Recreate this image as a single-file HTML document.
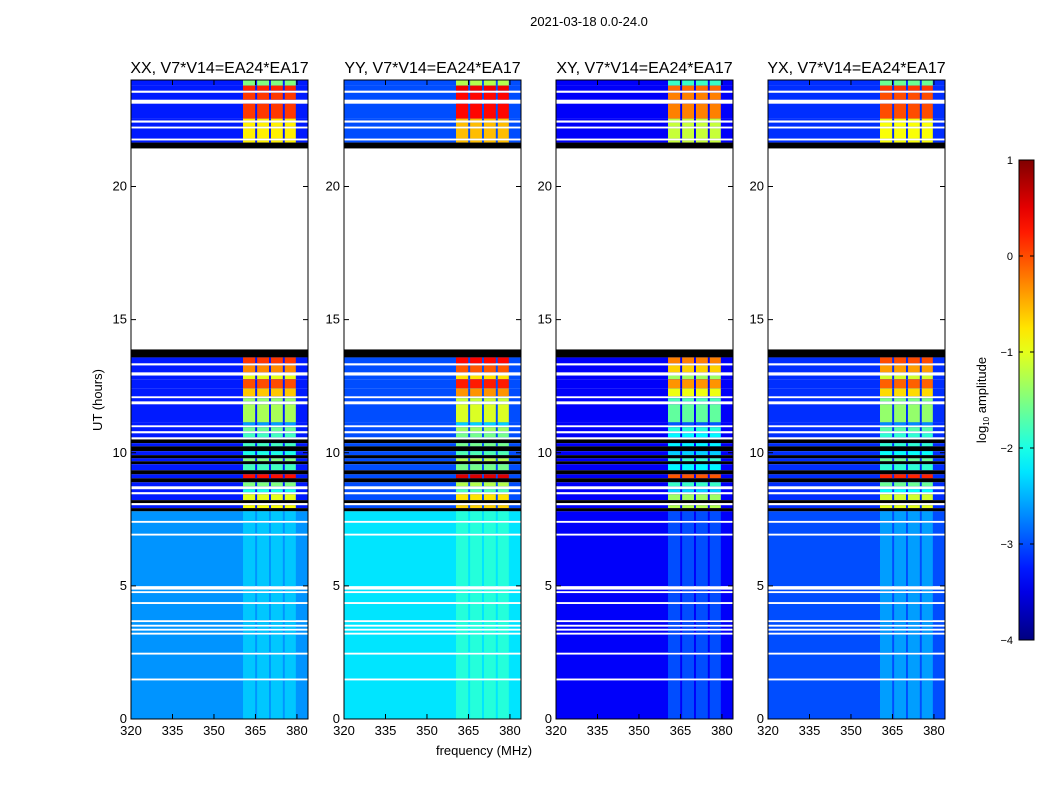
<!DOCTYPE html>
<html><head><meta charset="utf-8"><style>
html,body{margin:0;padding:0;background:#fff}
svg{display:block;font-family:"Liberation Sans",sans-serif}
</style></head><body>
<svg id="fig" width="1050" height="800" viewBox="0 0 1050 800">
<text x="589" y="26" font-size="13" text-anchor="middle">2021-03-18 0.0-24.0</text>
<text transform="translate(102,400) rotate(-90)" font-size="13" text-anchor="middle">UT (hours)</text>
<text x="484" y="755" font-size="13" text-anchor="middle">frequency (MHz)</text>
<g id="panels"></g>
<g id="cbar"></g>
<text transform="translate(986,400) rotate(-90)" font-size="13" text-anchor="middle">log<tspan font-size="8" dy="3">10</tspan><tspan dy="-3"> amplitude</tspan></text>
</svg>
<script>
// ---- data ----
const panelTitles = ["XX, V7*V14=EA24*EA17","YY, V7*V14=EA24*EA17","XY, V7*V14=EA24*EA17","YX, V7*V14=EA24*EA17"];
const panelLeft = [131, 344, 556, 768];
const yTicks = [0,5,10,15,20];
const xTicks = [320,335,350,365,380];
const bandStarts = [360.5, 365.6, 370.6, 375.6];
const bandEnds   = [364.9, 369.9, 374.9, 379.6];
// segments: [startHour, endHour, kind, bandLevel]  kinds: d=data(hi), w=no data, k=flagged(black), l=low-region data
const segments = [
 [23.79,24.0,'d',-1.5],[23.6,23.79,'d',0.2],[23.52,23.6,'w',0],[23.26,23.52,'d',0.1],[23.11,23.26,'w',0],
 [22.55,23.11,'d',0.1],[22.48,22.55,'d',-0.8],[22.4,22.48,'w',0],[22.25,22.4,'d',-0.8],[22.18,22.25,'w',0],
 [21.8,22.18,'d',-0.8],[21.73,21.8,'w',0],[21.65,21.73,'d',-0.8],[21.43,21.65,'k',0],[13.88,21.43,'w',0],
 [13.58,13.88,'k',0],[13.36,13.58,'d',0.1],[13.28,13.36,'w',0],[13.02,13.28,'d',-0.3],[12.9,13.02,'w',0],
 [12.76,12.9,'d',-1.0],[12.42,12.76,'d',0.0],[12.12,12.42,'d',-0.6],[12.05,12.12,'w',0],[11.93,12.05,'d',-1.4],
 [11.82,11.93,'w',0],[11.14,11.82,'d',-1.3],[11.03,11.14,'d',-2.6],[10.96,11.03,'w',0],[10.81,10.96,'d',-1.6],
 [10.73,10.81,'w',0],[10.58,10.73,'d',-1.8],[10.5,10.58,'w',0],[10.36,10.5,'k',0],[10.24,10.36,'d',-1.8],
 [10.06,10.24,'k',0],[9.91,10.06,'d',-2.0],[9.79,9.91,'k',0],[9.68,9.79,'d',-1.5],[9.57,9.68,'k',0],
 [9.34,9.57,'d',-1.8],[9.19,9.34,'k',0],[9.04,9.19,'d',0.3],[8.89,9.04,'k',0],[8.74,8.89,'d',-1.5],
 [8.63,8.74,'w',0],[8.52,8.63,'d',-2.0],[8.44,8.52,'w',0],[8.22,8.44,'d',-1.0],[8.11,8.22,'k',0],
 [8.03,8.11,'w',0],[7.92,8.03,'d',-0.9],[7.8,7.92,'k',0],
 [7.44,7.8,'l',0],[7.37,7.44,'w',0],[6.96,7.37,'l',0],[6.89,6.96,'w',0],[4.99,6.89,'l',0],[4.86,4.99,'w',0],
 [4.8,4.86,'l',0],[4.73,4.8,'w',0],[4.39,4.73,'l',0],[4.32,4.39,'w',0],[3.71,4.32,'l',0],[3.64,3.71,'w',0],
 [3.54,3.64,'l',0],[3.47,3.54,'w',0],[3.39,3.47,'l',0],[3.32,3.39,'w',0],[3.24,3.32,'l',0],[3.17,3.24,'w',0],
 [2.49,3.17,'l',0],[2.42,2.49,'w',0],[1.52,2.42,'l',0],[1.45,1.52,'w',0],[0.0,1.45,'l',0]
];
// per panel levels (log10 amplitude)
const hiBackground = [-3.25, -3.0, -3.4, -3.15];
const hiBandOffset = [0.0, 0.25, -0.35, -0.1];
const loBackground = [-2.65, -2.25, -3.4, -3.0];
const loBand = [-2.4, -1.95, -3.0, -2.6];
const cbarTicks = [1,0,-1,-2,-3,-4];

// ---- helpers ----
const NS="http://www.w3.org/2000/svg";
function mk(tag,attrs,parent){const e=document.createElementNS(NS,tag);for(const k in attrs)e.setAttribute(k,attrs[k]);parent.appendChild(e);return e;}
function jet(v){ // v in [-4,1]
  let t=(v+4)/5; t=Math.max(0,Math.min(1,t));
  const r=Math.max(0,Math.min(1,1.5-Math.abs(4*t-3)));
  const g=Math.max(0,Math.min(1,1.5-Math.abs(4*t-2)));
  const b=Math.max(0,Math.min(1,1.5-Math.abs(4*t-1)));
  return `rgb(${Math.round(r*255)},${Math.round(g*255)},${Math.round(b*255)})`;
}
const top0=80, bot0=719, pw=177;
function yOf(h){return bot0-(bot0-top0)*h/24;}
function xOf(f,i){return panelLeft[i]+(f-320)*pw/64;}

const panels=document.getElementById('panels');
panelTitles.forEach((title,i)=>{
  const g=mk('g',{},panels);
  
  
  const x0=panelLeft[i];
  segments.forEach(s=>{
    const y1=yOf(s[1]), y0=yOf(s[0]);
    const h=y0-y1;
    if(s[2]==='w') return;
    if(s[2]==='k'){const r=mk('rect',{x:x0,y:y1,width:pw,height:h,fill:'#000'},g);
      return;}
    const bg = s[2]==='l'? loBackground[i] : hiBackground[i];
    const bv = s[2]==='l'? loBand[i] : s[3]+hiBandOffset[i];
    const r=mk('rect',{x:x0,y:y1,width:pw,height:h,fill:jet(bg)},g);
    
    bandStarts.forEach((fs,j)=>{
      const a=xOf(fs,i), b=xOf(bandEnds[j],i);
      const c=mk('rect',{x:a,y:y1,width:b-a,height:h,fill:jet(bv)},g);
      
    });
  });
  const fr=mk('rect',{x:x0,y:top0,width:pw,height:bot0-top0,fill:'none',stroke:'#000','stroke-width':1},g);
  
  const t=mk('text',{x:x0+pw/2,y:73,'font-size':16,'text-anchor':'middle'},g);t.textContent=title;
  
  yTicks.forEach(v=>{const y=yOf(v);
    mk('line',{x1:x0,x2:x0+5,y1:y,y2:y,stroke:'#000'},g);
    mk('line',{x1:x0+pw-5,x2:x0+pw,y1:y,y2:y,stroke:'#000'},g);
    const l=mk('text',{x:x0-4,y:y+4,'font-size':13,'text-anchor':'end'},g);l.textContent=v;
    
  });
  xTicks.forEach(v=>{const x=xOf(v,i);
    mk('line',{x1:x,x2:x,y1:bot0,y2:bot0-5,stroke:'#000'},g);
    mk('line',{x1:x,x2:x,y1:top0,y2:top0+5,stroke:'#000'},g);
    const l=mk('text',{x:x,y:bot0+16,'font-size':13,'text-anchor':'middle'},g);l.textContent=v;
    
  });
});
// colorbar
const cb=document.getElementById('cbar');
const defs=mk('defs',{},cb);
const lg=mk('linearGradient',{id:'jetg',x1:0,y1:1,x2:0,y2:0},defs);
for(let k=0;k<=20;k++){mk('stop',{offset:k/20,'stop-color':jet(-4+5*k/20)},lg);}
const cbx=1019,cbt=160,cbb=640,cbw=15;
mk('rect',{x:cbx,y:cbt,width:cbw,height:cbb-cbt,fill:'url(#jetg)',stroke:'#000'},cb);
cbarTicks.forEach(v=>{const y=cbb-(v+4)/5*(cbb-cbt);
  mk('line',{x1:cbx,x2:cbx+4,y1:y,y2:y,stroke:'#000'},cb);
  mk('line',{x1:cbx+cbw-4,x2:cbx+cbw,y1:y,y2:y,stroke:'#000'},cb);
  const l=mk('text',{x:cbx-6,y:y+4,'font-size':11,'text-anchor':'end'},cb);l.textContent=(v<0?'\u2212':'')+Math.abs(v);
  
});
</script>
</body></html>
